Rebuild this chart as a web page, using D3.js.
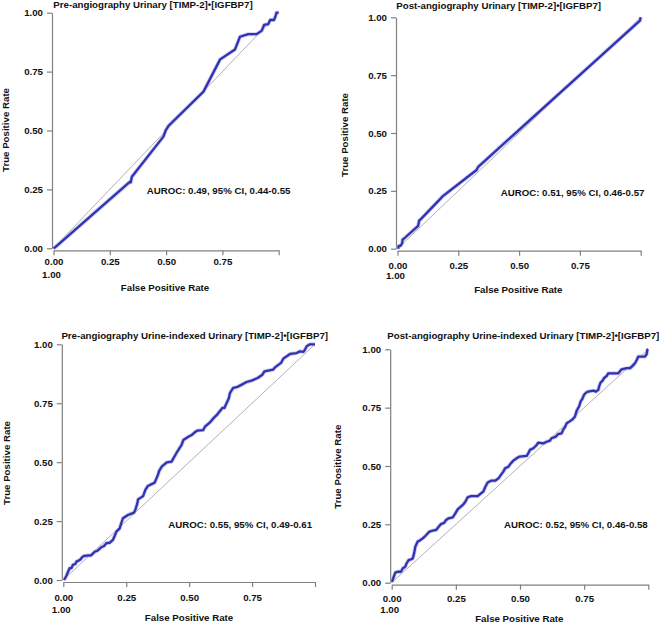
<!DOCTYPE html>
<html><head><meta charset="utf-8">
<script src="https://cdn.jsdelivr.net/npm/d3@7"></script>
<style>
html,body{margin:0;padding:0;background:#fff;}
svg{display:block;}
text{font-family:"Liberation Sans",Arial,sans-serif;font-weight:bold;fill:#111;}
</style></head>
<body>
<svg id="chart" width="661" height="623"></svg>
<script>
// ---- data ----
const titles = [
  "Pre-angiography Urinary [TIMP-2]\u2022[IGFBP7]",
  "Post-angiography Urinary [TIMP-2]\u2022[IGFBP7]",
  "Pre-angiography Urine-indexed Urinary [TIMP-2]\u2022[IGFBP7]",
  "Post-angiography Urine-indexed Urinary [TIMP-2]\u2022[IGFBP7]"
];
const aurocLabels = [
  "AUROC: 0.49, 95% CI, 0.44-0.55",
  "AUROC: 0.51, 95% CI, 0.46-0.57",
  "AUROC: 0.55, 95% CI, 0.49-0.61",
  "AUROC: 0.52, 95% CI, 0.46-0.58"
];
const xTickValues = [0, 0.25, 0.5, 0.75, 1];
const xTickLabels = ["0.00", "0.25", "0.50", "0.75", ""];
const xExtraLabel = "1.00";
const yTickValues = [0, 0.25, 0.5, 0.75, 1];
const yTickLabels = ["0.00", "0.25", "0.50", "0.75", "1.00"];
const xAxisTitle = "False Positive Rate";
const yAxisTitle = "True Positive Rate";

// ROC curves: [FPR, TPR]
const rocPreUrinary = [
  [0,0],[0.007,0.004],[0.340,0.283],[0.343,0.280],[0.348,0.304],[0.488,0.474],[0.499,0.502],
  [0.510,0.519],[0.666,0.665],[0.740,0.802],[0.806,0.844],[0.828,0.898],[0.865,0.909],
  [0.902,0.909],[0.925,0.924],[0.935,0.948],[0.954,0.952],[0.962,0.969],[0.979,0.969],
  [0.985,0.983],[0.990,1.0],[1,1]
];
const rocPostUrinary = [
  [0.003,0],[0.005,0.012],[0.012,0.012],[0.019,0.023],[0.021,0.040],[0.026,0.043],
  [0.085,0.099],[0.089,0.121],[0.096,0.128],[0.174,0.213],[0.184,0.225],[0.325,0.340],
  [0.332,0.354],[0.997,0.986],[1,1]
];
const rocPreIndexed = [
  [0.003,0],[0.012,0.017],[0.019,0.035],[0.025,0.050],[0.032,0.050],[0.038,0.064],[0.048,0.068],
  [0.052,0.078],[0.061,0.082],[0.069,0.088],[0.074,0.096],[0.082,0.102],[0.111,0.105],[0.118,0.113],
  [0.125,0.120],[0.135,0.124],[0.144,0.132],[0.151,0.139],[0.162,0.144],[0.171,0.156],[0.184,0.158],
  [0.197,0.170],[0.204,0.187],[0.211,0.205],[0.224,0.219],[0.230,0.240],[0.237,0.262],[0.257,0.276],
  [0.281,0.286],[0.286,0.297],[0.294,0.325],[0.297,0.342],[0.317,0.356],[0.326,0.382],[0.336,0.399],
  [0.363,0.413],[0.376,0.446],[0.381,0.463],[0.391,0.481],[0.411,0.499],[0.430,0.502],[0.444,0.528],
  [0.453,0.545],[0.470,0.573],[0.477,0.594],[0.497,0.608],[0.510,0.615],[0.523,0.627],[0.532,0.634],
  [0.556,0.636],[0.563,0.651],[0.583,0.669],[0.599,0.689],[0.613,0.704],[0.632,0.730],[0.640,0.730],
  [0.649,0.751],[0.658,0.772],[0.662,0.793],[0.675,0.815],[0.689,0.818],[0.709,0.829],[0.728,0.840],
  [0.748,0.846],[0.772,0.857],[0.791,0.871],[0.799,0.885],[0.834,0.893],[0.841,0.902],[0.865,0.921],
  [0.874,0.939],[0.901,0.959],[0.927,0.963],[0.940,0.970],[0.954,0.968],[0.960,0.977],[0.967,0.992],
  [0.980,1.0],[1,1]
];
const rocPostIndexed = [
  [0.001,0.004],[0.006,0.019],[0.014,0.043],[0.023,0.047],[0.036,0.047],[0.043,0.061],[0.053,0.069],
  [0.058,0.083],[0.066,0.097],[0.075,0.100],[0.082,0.104],[0.088,0.129],[0.092,0.154],[0.101,0.176],
  [0.108,0.180],[0.121,0.190],[0.131,0.200],[0.140,0.211],[0.147,0.219],[0.160,0.223],[0.173,0.226],
  [0.183,0.240],[0.192,0.251],[0.205,0.257],[0.212,0.269],[0.222,0.276],[0.238,0.280],[0.248,0.297],
  [0.257,0.314],[0.266,0.323],[0.277,0.333],[0.287,0.347],[0.296,0.366],[0.309,0.371],[0.335,0.371],
  [0.348,0.383],[0.357,0.390],[0.365,0.411],[0.374,0.429],[0.387,0.437],[0.403,0.437],[0.416,0.447],
  [0.425,0.461],[0.435,0.476],[0.442,0.490],[0.455,0.497],[0.464,0.511],[0.474,0.523],[0.487,0.533],
  [0.497,0.540],[0.526,0.543],[0.532,0.554],[0.539,0.569],[0.552,0.576],[0.565,0.590],[0.571,0.600],
  [0.591,0.597],[0.604,0.604],[0.617,0.609],[0.623,0.619],[0.640,0.626],[0.649,0.637],[0.662,0.640],
  [0.669,0.657],[0.675,0.666],[0.682,0.683],[0.692,0.690],[0.705,0.700],[0.714,0.711],[0.721,0.737],
  [0.731,0.757],[0.736,0.776],[0.744,0.790],[0.749,0.804],[0.757,0.814],[0.766,0.819],[0.786,0.823],
  [0.796,0.819],[0.805,0.826],[0.809,0.843],[0.814,0.857],[0.822,0.866],[0.827,0.876],[0.838,0.886],
  [0.844,0.897],[0.883,0.897],[0.892,0.909],[0.896,0.914],[0.916,0.919],[0.929,0.919],[0.939,0.929],
  [0.948,0.940],[0.955,0.954],[0.961,0.969],[0.987,0.969],[0.994,0.980],[0.996,0.997],[1,1]
];
const curves = [rocPreUrinary, rocPostUrinary, rocPreIndexed, rocPostIndexed];
const diagonal = [[0,0],[1,1]];

// ---- layout (pixel geometry per panel) ----
const panels = [
  {x0:53.5, x1:278.7, y0:248.3, y1:12.7, tx:153, ty:7.5, ax:146.7, ay:191, xl:[165,290.5], yl:[6.5,130], xt:262.5, x2:275.5},
  {x0:397.5, x1:640.7, y0:248.7, y1:17.3, tx:498.7, ty:8.5, ax:500.7, ay:193.3, xl:[518.3,292.5], yl:[345,135], xt:266.7, x2:276.5},
  {x0:63.3, x1:315, y0:580, y1:344.3, tx:194.7, ty:338.5, ax:168.3, ay:525, xl:[189,620.5], yl:[7,463], xt:598.5, x2:610.3},
  {x0:391.7, x1:648.3, y0:582.7, y1:349.3, tx:523.3, ty:338.5, ax:504, ay:525.7, xl:[519.3,621.5], yl:[338.3,466.7], xt:599.5, x2:610.8}
];

const svg = d3.select("#chart");
const FS = "9.7px";
const curveColor = "#3232b4";

panels.forEach((p, i) => {
  const x = d3.scaleLinear().domain([0,1]).range([p.x0, p.x1]);
  const y = d3.scaleLinear().domain([0,1]).range([p.y0, p.y1]);
  const g = svg.append("g");

  // axes
  const xAxis = d3.axisBottom(x).tickValues(xTickValues)
    .tickFormat((d,k) => xTickLabels[k]).tickSize(5).tickSizeOuter(0).tickPadding(3);
  const yAxis = d3.axisLeft(y).tickValues(yTickValues)
    .tickFormat((d,k) => yTickLabels[k]).tickSize(5).tickSizeOuter(0).tickPadding(4);

  const gx = g.append("g").attr("transform", `translate(0,${p.y0 + 2})`).call(xAxis);
  const gy = g.append("g").attr("transform", `translate(${p.x0 - 1.5},0)`).call(yAxis);
  [gx, gy].forEach(a => {
    a.selectAll(".domain").attr("stroke", "#808080").attr("stroke-width", 1.2);
    a.selectAll(".tick line").attr("stroke", "#808080").attr("stroke-width", 1.2);
    a.selectAll(".tick text").attr("font-size", FS).attr("font-family", null).attr("fill", "#111");
  });
  gx.selectAll(".tick text").attr("dy", null)
    .attr("y", p.xt - (p.y0 + 2)).attr("dominant-baseline", "middle");

  // extra label under the origin
  g.append("text").attr("x", x(0) - 2).attr("y", p.x2)
    .attr("text-anchor", "middle").attr("dominant-baseline", "middle")
    .attr("font-size", FS).text(xExtraLabel);

  // diagonal reference
  const line = d3.line().x(d => x(d[0])).y(d => y(d[1]));
  g.append("path").datum(diagonal).attr("d", line)
    .attr("fill", "none").attr("stroke", "#a8a8a8").attr("stroke-width", 0.9);

  // ROC curve (soft halo + line)
  g.append("path").datum(curves[i]).attr("d", line)
    .attr("fill", "none").attr("stroke", "#b6b6e6").attr("stroke-width", 4)
    .attr("stroke-linejoin", "round").attr("opacity", 0.7);
  g.append("path").datum(curves[i]).attr("d", line)
    .attr("fill", "none").attr("stroke", curveColor).attr("stroke-width", 2.3)
    .attr("stroke-linejoin", "round");

  // titles and labels
  g.append("text").attr("x", p.tx).attr("y", p.ty).attr("text-anchor", "middle")
    .attr("font-size", FS).text(titles[i]);
  g.append("text").attr("x", p.ax).attr("y", p.ay).attr("dominant-baseline", "middle")
    .attr("font-size", FS).text(aurocLabels[i]);
  g.append("text").attr("x", p.xl[0]).attr("y", p.xl[1]).attr("text-anchor", "middle")
    .attr("font-size", FS).text(xAxisTitle);
  g.append("text").attr("transform", `translate(${p.yl[0]},${p.yl[1]}) rotate(-90)`)
    .attr("text-anchor", "middle").attr("dominant-baseline", "middle")
    .attr("font-size", FS).text(yAxisTitle);
});
</script>
</body></html>
